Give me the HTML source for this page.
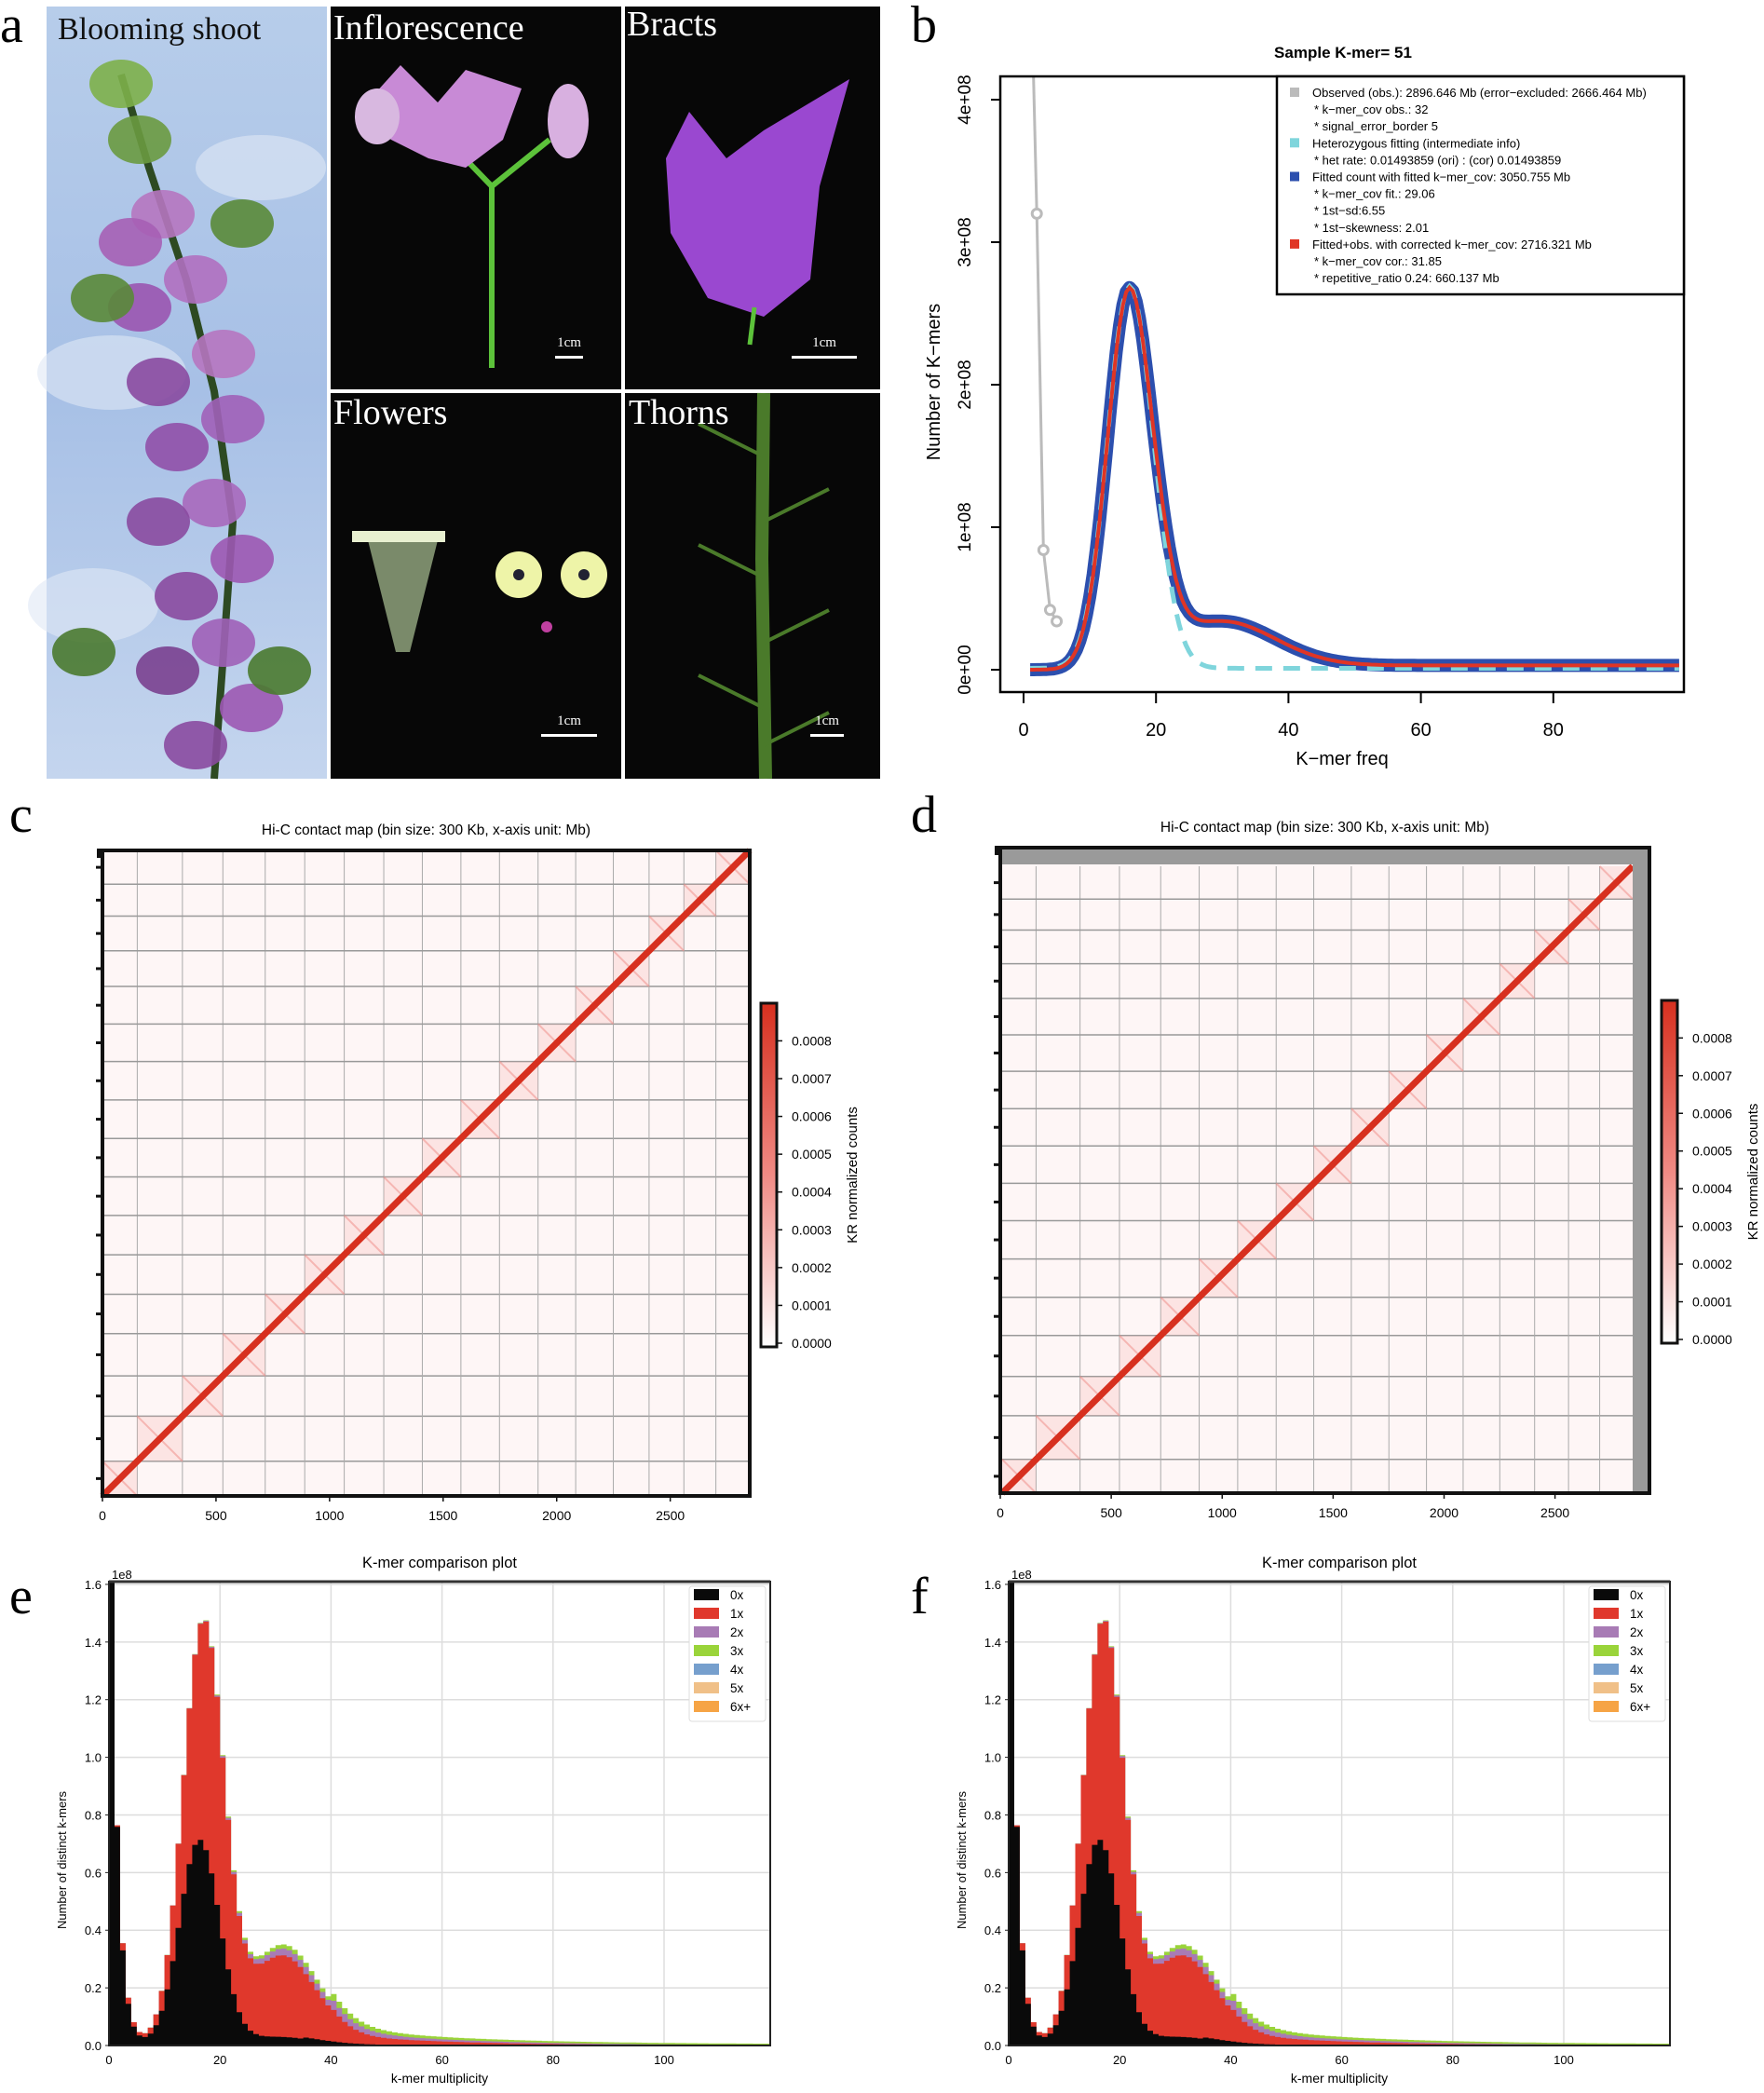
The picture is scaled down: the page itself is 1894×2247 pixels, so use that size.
<!DOCTYPE html>
<html><head><meta charset="utf-8"><style>
html,body{margin:0;padding:0;background:#fff;}
svg{display:block}
text{font-family:"Liberation Sans",sans-serif}
</style></head><body>
<svg id="s" width="1894" height="2247" viewBox="0 0 1894 2247" xmlns="http://www.w3.org/2000/svg">
<defs>
<linearGradient id="sky" x1="0" y1="0" x2="0" y2="1"><stop offset="0" stop-color="#b7cdea"/><stop offset="0.5" stop-color="#a7c0e6"/><stop offset="1" stop-color="#c4d5ee"/></linearGradient>
<linearGradient id="cb" x1="0" y1="1" x2="0" y2="0"><stop offset="0" stop-color="#ffffff"/><stop offset="0.5" stop-color="#f08a84"/><stop offset="1" stop-color="#d7301f"/></linearGradient>
</defs>
<g id="root"></g>
</svg>
<script>
var R=document.getElementById('root'),o='';
var SER='style="font-family:\'Liberation Serif\',serif"';
function t(x,y,s,sz,extra){o+='<text x="'+x+'" y="'+y+'" font-size="'+sz+'" '+(extra||'')+'>'+s+'</text>';}
// ---------- Panel a ----------
o+='<rect x="50" y="7" width="301" height="829" fill="url(#sky)"/>';
o+='<ellipse cx="120" cy="400" rx="80" ry="40" fill="#dfe8f5" opacity="0.6"/><ellipse cx="280" cy="180" rx="70" ry="35" fill="#dfe8f5" opacity="0.6"/><ellipse cx="100" cy="650" rx="70" ry="40" fill="#dfe8f5" opacity="0.6"/>';
o+='<polyline points="230,836 240,700 250,560 230,420 200,300 160,180 130,80" fill="none" stroke="#2d4a22" stroke-width="8"/>';
var fl=[[130,90,'#7db04a'],[150,150,'#6a9a40'],[175,230,'#b676c0'],[140,260,'#a65fb5'],[210,300,'#b070c0'],[150,330,'#9a55b0'],[240,380,'#b676c0'],[170,410,'#8a4aa0'],[250,450,'#a060b8'],[190,480,'#9050a8'],[230,540,'#a868bc'],[170,560,'#8a4aa0'],[260,600,'#9c58b2'],[200,640,'#8a4aa0'],[240,690,'#a060b8'],[180,720,'#7a4090'],[270,760,'#9c58b2'],[210,800,'#8a4aa0'],[90,700,'#4a7a30'],[300,720,'#4a7a30'],[110,320,'#5a8a38'],[260,240,'#5a8a38']];
fl.forEach(function(f){o+='<ellipse cx="'+f[0]+'" cy="'+f[1]+'" rx="34" ry="26" fill="'+f[2]+'" opacity="0.9"/>';});
o+='<rect x="355" y="7" width="312" height="411" fill="#070707"/><rect x="671" y="7" width="274" height="411" fill="#070707"/>';
o+='<rect x="355" y="422" width="312" height="414" fill="#070707"/><rect x="671" y="422" width="274" height="414" fill="#070707"/>';
o+='<path d="M528,395 L528,200 M528,200 L470,140 M528,200 L590,150" stroke="#5cc23a" stroke-width="6" fill="none"/>';
o+='<path d="M385,120 L430,70 L470,110 L500,75 L560,95 L540,150 L500,180 L460,170 L420,150 Z" fill="#c88ad6"/><ellipse cx="610" cy="130" rx="22" ry="40" fill="#d8b0e0"/><ellipse cx="405" cy="125" rx="24" ry="30" fill="#d8b8e0"/>';
o+='<path d="M740,120 L780,170 L820,140 L912,85 L880,200 L870,300 L820,340 L760,320 L720,250 L715,170 Z" fill="#9a48d0"/><path d="M810,330 L805,370" stroke="#5cc23a" stroke-width="5"/>';
o+='<path d="M395,580 L420,570 L440,575 L470,580 L455,640 L440,700 L425,700 L410,640 Z" fill="#7a8a6a"/><rect x="378" y="570" width="100" height="12" fill="#e8f0d0"/>';
o+='<circle cx="557" cy="617" r="25" fill="#eef4a8"/><circle cx="557" cy="617" r="6" fill="#223"/><circle cx="627" cy="617" r="25" fill="#eef4a8"/><circle cx="627" cy="617" r="6" fill="#223"/><circle cx="587" cy="673" r="6" fill="#c040a0"/>';
o+='<path d="M820,422 L818,600 L822,836" stroke="#4a7a2a" stroke-width="14" fill="none"/>';
[[490,-1],[560,1],[620,-1],[690,1],[760,-1],[800,1]].forEach(function(a){o+='<line x1="820" y1="'+a[0]+'" x2="'+(820+a[1]*70)+'" y2="'+(a[0]-35)+'" stroke="#4a7a2a" stroke-width="4"/>';});
t(0,45,'a',56,SER);
t(62,42,'Blooming shoot',34,SER+' fill="#111"');
t(358,42,'Inflorescence',38,SER+' fill="#fff"');
t(673,38,'Bracts',38,SER+' fill="#fff"');
t(358,455,'Flowers',38,SER+' fill="#fff"');
t(675,455,'Thorns',38,SER+' fill="#fff"');
[[606,372,30],[880,372,70],[606,778,60],[883,778,36]].forEach(function(c){t(c[0]+5,c[1],'1cm',15,SER+' fill="#fff" text-anchor="middle"');o+='<rect x="'+(c[0]+5-c[2]/2)+'" y="'+(c[1]+10)+'" width="'+c[2]+'" height="3" fill="#fff"/>';});
// ---------- Panel b ----------
t(978,45,'b',56,SER);
t(1442,62,'Sample K-mer= 51',17,'text-anchor="middle" font-weight="bold"');
var bx=function(v){return 1099+7.11*v;},by=function(v){return 719-153*v;};
function mainf(x){var s=x<16?3.3:3.6;return 2.68*Math.exp(-(x-16)*(x-16)/(2*s*s));}
function sh(x){return 0.31*Math.exp(-(x-30)*(x-30)/(2*8*8))+0.03;}
var pb='',pc='';
for(var x=1;x<=99;x+=0.5){var v=mainf(x)+sh(x)*(1/(1+Math.exp(-(x-20))));pb+=(x==1?'M':'L')+bx(x).toFixed(1)+','+by(v).toFixed(1);var c=mainf(x)*1.0;pc+=(x==1?'M':'L')+bx(x).toFixed(1)+','+by(c+0.01).toFixed(1);}
o+='<clipPath id="bc"><rect x="1074" y="82" width="734" height="661"/></clipPath><g clip-path="url(#bc)">';
o+='<polyline points="'+bx(1.5)+',82 '+bx(2)+','+by(3.2)+' '+bx(3)+','+by(0.84)+' '+bx(4)+','+by(0.42)+' '+bx(5)+','+by(0.34)+'" fill="none" stroke="#bbb" stroke-width="3"/>';
[[2,3.2],[3,0.84],[4,0.42],[5,0.34]].forEach(function(p){o+='<circle cx="'+bx(p[0])+'" cy="'+by(p[1])+'" r="5" fill="#fff" stroke="#bbb" stroke-width="3"/>';});
o+='<path d="'+pb+'" fill="none" stroke="#2c4fae" stroke-width="14" stroke-linejoin="round"/>';
o+='<path d="'+pc+'" fill="none" stroke="#7fd5dc" stroke-width="5" stroke-dasharray="18,12"/>';
o+='<path d="'+pb+'" fill="none" stroke="#e03525" stroke-width="4"/></g>';
o+='<rect x="1074" y="82" width="734" height="661" fill="none" stroke="#000" stroke-width="2.5"/>';
[0,1,2,3,4].forEach(function(i){var y=by(i);o+='<line x1="1064" y1="'+y+'" x2="1074" y2="'+y+'" stroke="#000" stroke-width="2"/>';t(1042,y,i+'e+'+(i==0?'00':'08'),19,'text-anchor="middle" transform="rotate(-90 1042 '+y+')"');});
[0,20,40,60,80].forEach(function(v){var x=bx(v);o+='<line x1="'+x+'" y1="743" x2="'+x+'" y2="755" stroke="#000" stroke-width="2"/>';t(x,790,v,20,'text-anchor="middle"');});
t(1441,821,'K−mer freq',20,'text-anchor="middle"');
t(1009,410,'Number of K−mers',20,'text-anchor="middle" transform="rotate(-90 1009 410)"');
o+='<rect x="1371" y="82" width="437" height="234" fill="#fff" stroke="#000" stroke-width="2.5"/>';
var lg=[['#bbb','Observed (obs.): 2896.646 Mb (error−excluded: 2666.464 Mb)'],['','* k−mer_cov obs.: 32'],['','* signal_error_border 5'],['#7fd5dc','Heterozygous fitting (intermediate info)'],['','* het rate: 0.01493859 (ori) : (cor) 0.01493859'],['#2c4fae','Fitted count with fitted k−mer_cov: 3050.755 Mb'],['','* k−mer_cov fit.: 29.06'],['','* 1st−sd:6.55'],['','* 1st−skewness: 2.01'],['#e03525','Fitted+obs. with corrected k−mer_cov: 2716.321 Mb'],['','* k−mer_cov cor.: 31.85'],['','* repetitive_ratio 0.24: 660.137 Mb']];
lg.forEach(function(l,i){var y=100+i*18.1;if(l[0])o+='<rect x="1385" y="'+(y-6)+'" width="10" height="10" fill="'+l[0]+'"/>';t(l[0]?1409:1411,y+4,l[1],13);});
// ---------- Hi-C ----------
var sizes=[37,48,43,45,42,42,42,41,41,41,41,40,40,38,37,34,36];
function hic(X,Y,W,H,gray,label,lx){
 t(lx,893,label,56,SER);
 o+='<rect x="'+X+'" y="'+Y+'" width="'+W+'" height="'+H+'" fill="#fef6f6"/>';
 var tot=688,gx=X+(gray?2:0),gw=W-(gray?20:0),gy=Y+(gray?20:0),gh=H-(gray?20:0);
 var acc=0,bounds=[0];sizes.forEach(function(s){acc+=s;bounds.push(acc);});
 for(var i=1;i<bounds.length-1;i++){var f=bounds[i]/tot;var xx=gx+f*gw,yy=gy+gh-f*gh;
  o+='<line x1="'+xx+'" y1="'+gy+'" x2="'+xx+'" y2="'+(gy+gh)+'" stroke="#aaa" stroke-width="1"/>';
  o+='<line x1="'+gx+'" y1="'+yy+'" x2="'+(gx+gw)+'" y2="'+yy+'" stroke="#999" stroke-width="1.5"/>';}
 for(var i=0;i<bounds.length-1;i++){var f0=bounds[i]/tot,f1=bounds[i+1]/tot;
  var x0=gx+f0*gw,x1=gx+f1*gw,y0=gy+gh-f0*gh,y1=gy+gh-f1*gh;
  o+='<rect x="'+x0+'" y="'+y1+'" width="'+(x1-x0)+'" height="'+(y0-y1)+'" fill="#f6b0aa" opacity="0.25"/>';
  o+='<line x1="'+x0+'" y1="'+y1+'" x2="'+x1+'" y2="'+y0+'" stroke="#f08a84" stroke-width="2" opacity="0.5"/>';}
 o+='<line x1="'+gx+'" y1="'+(gy+gh)+'" x2="'+(gx+gw)+'" y2="'+gy+'" stroke="#d7301f" stroke-width="7"/>';
 if(gray){o+='<rect x="'+X+'" y="'+Y+'" width="'+W+'" height="18" fill="#9a9a9a"/><rect x="'+(X+W-18)+'" y="'+Y+'" width="18" height="'+H+'" fill="#9a9a9a"/>';}
 o+='<rect x="'+X+'" y="'+Y+'" width="'+W+'" height="'+H+'" fill="none" stroke="#111" stroke-width="4"/>';
 o+='<rect x="'+(X-6)+'" y="'+(Y-2)+'" width="8" height="10" fill="#111"/>';
 for(var i=0;i<bounds.length-1;i++){var fm=(bounds[i]+bounds[i+1])/2/tot;var yy=gy+gh-fm*gh;o+='<line x1="'+(X-7)+'" y1="'+yy+'" x2="'+X+'" y2="'+yy+'" stroke="#111" stroke-width="3"/>';}
 [0,500,1000,1500,2000,2500].forEach(function(v){var xx=X+v/2850*(W-(gray?18:0));o+='<line x1="'+xx+'" y1="'+(Y+H)+'" x2="'+xx+'" y2="'+(Y+H+6)+'" stroke="#111" stroke-width="1.5"/>';t(xx,Y+H+26,v,14,'text-anchor="middle"');});
 t(X+W/2,Y-17,'Hi-C contact map (bin size: 300 Kb, x-axis unit: Mb)',15.5,'text-anchor="middle"');
}
hic(110,913,695,693,false,'c',10);
hic(1074,910,697,693,true,'d',978);
function cbar(X,Y,H){o+='<rect x="'+X+'" y="'+Y+'" width="17" height="'+H+'" fill="url(#cb)" stroke="#111" stroke-width="3"/>';
 for(var i=0;i<=8;i++){var y=Y+H-4-i*(H-14)/8.75;o+='<line x1="'+(X+17)+'" y1="'+y+'" x2="'+(X+23)+'" y2="'+y+'" stroke="#111" stroke-width="1.5"/>';t(X+33,y+5,'0.000'+i,14);}
 t(X+103,Y+H/2,'KR normalized counts',15,'text-anchor="middle" transform="rotate(-90 '+(X+103)+' '+(Y+H/2)+')"');}
cbar(817,1077,369);cbar(1784,1074,368);
// ---------- Histograms ----------
function blk(x){if(x<=1)return 1.7;var tail=0.5*Math.exp(-(x-2)/1.2);var m=0.71*Math.exp(-(x-16.3)*(x-16.3)/(2*3.6*3.6));var sh=0.03*Math.exp(-(x-30)*(x-30)/(2*7*7));var lt=0.004*Math.exp(-(x-40)/15);return tail+m+sh+(x>35?lt:0);}
function red(x){if(x<=1)return 1.7;var tail=0.52*Math.exp(-(x-2)/1.3);var m=1.46*Math.exp(-(x-17)*(x-17)/(2*3.7*3.7));var sh=0.3*Math.exp(-(x-31)*(x-31)/(2*6*6));var lt=0.03*Math.exp(-(x-45)/20);return tail+m+sh+(x>40?lt:0.03*Math.max(0,(x-25)/15));}
function pur(x){return 0.025*Math.exp(-(x-34)*(x-34)/(2*8*8))+(x>40?0.012*Math.exp(-(x-45)/30):0);}
function hist(X,label,lx){
 var Y=1698,W=710,H=498,x0=X,sx=5.96,y0=2196,sy=309.4;
 t(lx,1732,label,56,SER);
 for(var g=1;g<=8;g++){var yy=y0-g*0.2*sy;o+='<line x1="'+X+'" y1="'+yy+'" x2="'+(X+W)+'" y2="'+yy+'" stroke="#ddd" stroke-width="1.5"/>';}
 [20,40,60,80,100].forEach(function(v){var xx=x0+v*sx;o+='<line x1="'+xx+'" y1="'+Y+'" x2="'+xx+'" y2="'+(Y+H)+'" stroke="#ddd" stroke-width="1.5"/>';});
 o+='<clipPath id="hc'+label+'"><rect x="'+X+'" y="'+Y+'" width="'+W+'" height="'+H+'"/></clipPath><g clip-path="url(#hc'+label+')">';
 function step(f){var s='M'+x0+','+y0;for(var i=0;i<120;i++){var v=f(i+0.5);var y=(y0-v*sy).toFixed(1);s+=' L'+(x0+i*sx).toFixed(1)+','+y+' L'+(x0+(i+1)*sx).toFixed(1)+','+y;}s+=' L'+(x0+120*sx)+','+y0+' Z';return s;}
 o+='<path d="'+step(function(x){return red(x)+pur(x)*1.6+(x>40?0.004:0);})+'" fill="#9ad43a"/>';
 o+='<path d="'+step(function(x){return red(x)+pur(x);})+'" fill="#a87bb5"/>';
 o+='<path d="'+step(red)+'" fill="#e0382c"/>';
 o+='<path d="'+step(blk)+'" fill="#0a0a0a"/></g>';
 o+='<rect x="'+X+'" y="'+Y+'" width="'+W+'" height="'+H+'" fill="none" stroke="#222" stroke-width="2"/>';
 o+='<line x1="'+X+'" y1="'+Y+'" x2="'+(X+W)+'" y2="'+Y+'" stroke="#333" stroke-width="3"/>';
 for(var g=0;g<=8;g++){var yy=y0-g*0.2*sy;o+='<line x1="'+(X-4)+'" y1="'+yy+'" x2="'+X+'" y2="'+yy+'" stroke="#222"/>';t(X-8,yy+5,(g*0.2).toFixed(1),13,'text-anchor="end"');}
 [0,20,40,60,80,100].forEach(function(v){var xx=x0+v*sx;t(xx,y0+20,v,13,'text-anchor="middle"');});
 t(X+3,Y-3,'1e8',13);
 t(X+355,Y-15,'K-mer comparison plot',16.5,'text-anchor="middle"');
 t(X+355,y0+40,'k-mer multiplicity',14,'text-anchor="middle"');
 var ly=Y+H/2+50;t(X-46,ly,'Number of distinct k-mers',13,'text-anchor="middle" transform="rotate(-90 '+(X-46)+' '+ly+')"');
 var LX=X+623;o+='<rect x="'+LX+'" y="1703" width="82" height="145" fill="#fff" stroke="#ddd" rx="3"/>';
 [['#0a0a0a','0x'],['#e0382c','1x'],['#a87bb5','2x'],['#9ad43a','3x'],['#769fcd','4x'],['#f0c088','5x'],['#f6a445','6x+']].forEach(function(l,i){var yy=1712+i*20;o+='<rect x="'+(LX+5)+'" y="'+(yy-6)+'" width="27" height="12" fill="'+l[0]+'"/>';t(LX+44,yy+5,l[1],13.5);});
}
hist(117,'e',10);hist(1083,'f',978);
R.innerHTML=o;
</script>
</body></html>
